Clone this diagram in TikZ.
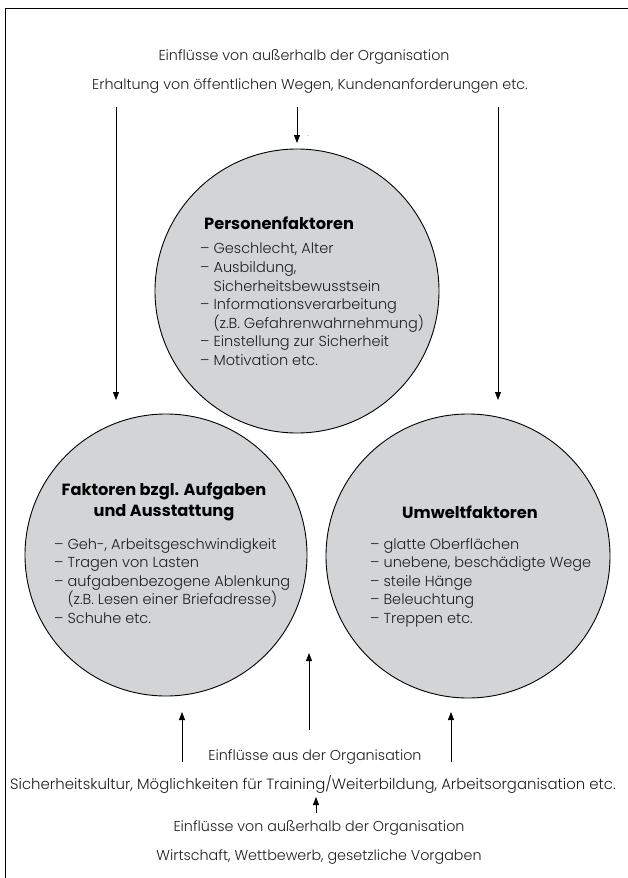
\documentclass[tikz,border=0pt]{standalone}
\usepackage{fontspec}
\setmainfont{Poppins Light}[BoldFont=Poppins Bold]
\usetikzlibrary{arrows.meta,shapes.geometric}
\definecolor{bubblegray}{HTML}{D3D4D6}
\definecolor{txt}{HTML}{1E1E1E}
\begin{document}
\begin{tikzpicture}[x=1pt,y=-1pt,
  bubble/.style={draw=black, line width=0.9pt, fill=bubblegray, inner sep=0pt},
  lbl/.style={font=\fontsize{14.3}{16}\selectfont, text=txt, inner sep=0pt},
  head/.style={font=\fontsize{16.2}{21}\selectfont\bfseries, text=black, inner sep=0pt, align=center},
  items/.style={font=\fontsize{14.5}{18.6}\selectfont, text=txt, inner sep=0pt, align=left, anchor=north west},
  arr/.style={line width=0.8pt, -{Triangle[length=8pt,width=6pt]}}
]
\useasboundingbox (0,0) rectangle (628,878);
% frame
\coordinate (fbl) at (5,878);
\coordinate (ftl) at (5,8);
\coordinate (ftr) at (628,8);
\draw[line width=1pt] (fbl) -- (ftl) -- (ftr);

% top influences
\node[lbl] (t1) at (304,57) {Einflüsse von außerhalb der Organisation};
\node[lbl] (t2) at (310,86) {Erhaltung von öffentlichen Wegen, Kundenanforderungen etc.};

% circles
\node[bubble, circle, minimum size=284pt] (pers) at (297,291) {};
\node[bubble, circle, minimum size=282pt] (aufg) at (166,555) {};
\node[bubble, circle, minimum size=284pt] (umw) at (468,556) {};

% Personenfaktoren
\node[head, anchor=west] (persh) at (204,223) {Personenfaktoren};
\node[items] (persi) at (200,243) {– Geschlecht, Alter\\
– Ausbildung,\\
\hphantom{– }Sicherheitsbewusstsein\\
– Informationsverarbeitung\\
\hphantom{– }(z.B. Gefahrenwahrnehmung)\\
– Einstellung zur Sicherheit\\
– Motivation etc.};

% Aufgaben
\node[head] (aufgh) at (164,502) {Faktoren bzgl. Aufgaben\\und Ausstattung};
\node[items] (aufgi) at (54,538) {– Geh-, Arbeitsgeschwindigkeit\\
– Tragen von Lasten\\
– aufgabenbezogene Ablenkung\\
\hphantom{– }(z.B. Lesen einer Briefadresse)\\
– Schuhe etc.};

% Umwelt
\node[head] (umwh) at (470,512) {Umweltfaktoren};
\node[items] (umwi) at (370,538) {– glatte Oberflächen\\
– unebene, beschädigte Wege\\
– steile Hänge\\
– Beleuchtung\\
– Treppen etc.};

% top arrows
\coordinate (la0) at (116,107);
\coordinate (la1) at (116,400);
\coordinate (ca0) at (297,107);
\coordinate (ca1) at (297,143);
\coordinate (ra0) at (498,107);
\coordinate (ra1) at (498,400);
\draw[arr] (la0) -- (la1);
\draw[arr] (ca0) -- (ca1);
\draw[arr] (ra0) -- (ra1);
\node[lbl, font=\fontsize{7}{7}\selectfont] (dot) at (308,136) {.};

% bottom arrows
\coordinate (lb0) at (182,762);
\coordinate (lb1) at (182,712);
\coordinate (cb0) at (309,730);
\coordinate (cb1) at (309,653);
\coordinate (rb0) at (451,762);
\coordinate (rb1) at (451,712);
\draw[arr] (lb0) -- (lb1);
\draw[arr] (cb0) -- (cb1);
\draw[arr] (rb0) -- (rb1);

% bottom influences
\node[lbl] (b1) at (315,757) {Einflüsse aus der Organisation};
\node[lbl, font=\fontsize{14.9}{16}\selectfont] (b2) at (313,784) {Sicherheitskultur, Möglichkeiten für Training/Weiterbildung, Arbeitsorganisation etc.};
\coordinate (sb0) at (316,813);
\coordinate (sb1) at (316,797);
\draw[arr] (sb0) -- (sb1);
\node[lbl] (b3) at (319,828) {Einflüsse von außerhalb der Organisation};
\node[lbl] (b4) at (319,857) {Wirtschaft, Wettbewerb, gesetzliche Vorgaben};
\end{tikzpicture}
\end{document}
